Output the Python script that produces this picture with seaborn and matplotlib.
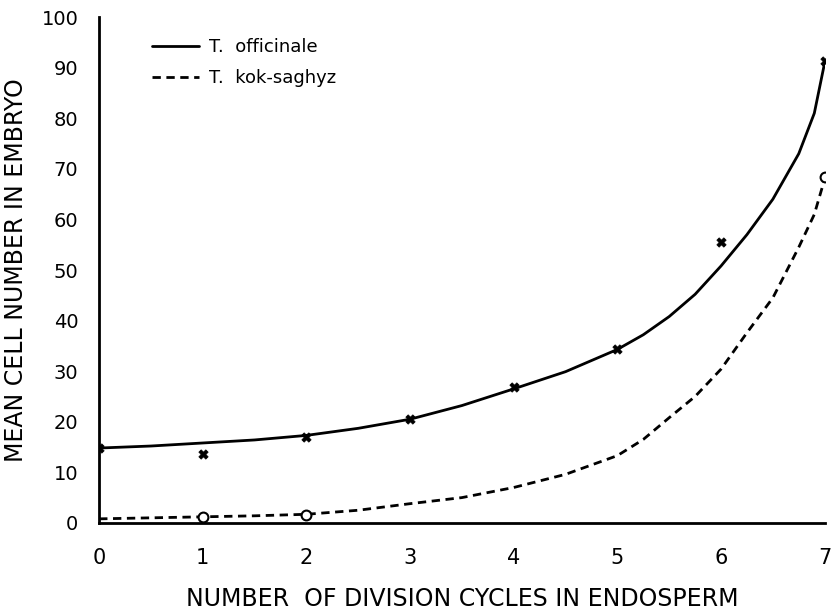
import pandas as pd
import matplotlib
matplotlib.use("Agg")
import matplotlib.pyplot as plt
import seaborn as sns

# measured points (markers)
cycles = [0, 1, 2, 3, 4, 5, 6, 7]
officinale_pts = [14.8, 13.7, 17.0, 20.6, 26.9, 34.3, 55.6, 91.3]
kok_cycles = [1, 2, 7]
kok_pts = [1.2, 1.6, 68.3]

# fitted curves
curve_x = [0, 0.5, 1, 1.5, 2, 2.5, 3, 3.5, 4, 4.5, 5, 5.25, 5.5, 5.75,
           6, 6.25, 6.5, 6.75, 6.9, 7]
off_curve_y = [14.8, 15.2, 15.8, 16.4, 17.3, 18.7, 20.5, 23.2, 26.5, 29.9, 34.3,
               37.2, 40.8, 45.2, 50.8, 57.0, 64.0, 73.0, 81.0, 91.0]
kok_curve_y = [0.8, 1.0, 1.2, 1.4, 1.7, 2.5, 3.8, 5.0, 7.0, 9.6, 13.3,
               16.5, 20.8, 25.0, 30.4, 37.6, 44.5, 54.5, 61.0, 68.0]

x_ticks = [0, 1, 2, 3, 4, 5, 6, 7]
y_ticks = [0, 10, 20, 30, 40, 50, 60, 70, 80, 90, 100]

sns.set_style("ticks")
plt.rcParams["font.family"] = ["DejaVu Sans"]
plt.rcParams["text.color"] = "black"
plt.rcParams["axes.labelcolor"] = "black"
plt.rcParams["xtick.color"] = "black"
plt.rcParams["ytick.color"] = "black"
plt.rcParams["axes.edgecolor"] = "black"

fig = plt.figure(figsize=(8.33, 6.13), dpi=100)
ax = fig.add_axes([0.119, 0.147, 0.871, 0.825])

sns.lineplot(x=curve_x, y=off_curve_y, ax=ax, color="black", linewidth=2.0,
             label="T.  officinale")
sns.lineplot(x=curve_x, y=kok_curve_y, ax=ax, color="black", linewidth=2.0,
             linestyle=(0, (3, 2)), label="T.  kok-saghyz")

sns.scatterplot(x=cycles, y=officinale_pts, ax=ax, marker="X", s=45,
                color="black", edgecolor="black", zorder=5, legend=False)
sns.scatterplot(x=kok_cycles, y=kok_pts, ax=ax, marker="o", s=50,
                facecolor="white", edgecolor="black", linewidth=1.5,
                zorder=5, legend=False)

ax.set_xlim(0, 7)
ax.set_ylim(0, 100)
ax.set_xticks(x_ticks)
ax.set_yticks(y_ticks)
ax.set_xticklabels([str(t) for t in x_ticks], fontsize=15)
ax.set_yticklabels([str(t) for t in y_ticks], fontsize=14)
ax.tick_params(axis="x", length=0, pad=18)
ax.tick_params(axis="y", length=0, pad=15)

for side in ["top", "right"]:
    ax.spines[side].set_visible(False)
ax.spines["left"].set_linewidth(2)
ax.spines["bottom"].set_linewidth(2)

ax.set_xlabel("NUMBER  OF DIVISION CYCLES IN ENDOSPERM", fontsize=17, labelpad=14)
ax.set_ylabel("MEAN CELL NUMBER IN EMBRYO", fontsize=17, labelpad=10)

leg = ax.legend(loc="upper left", bbox_to_anchor=(0.05, 0.99), frameon=False,
                fontsize=13, handlelength=2.6, handletextpad=0.6, labelspacing=0.7)

fig.savefig("out.png", dpi=100)
